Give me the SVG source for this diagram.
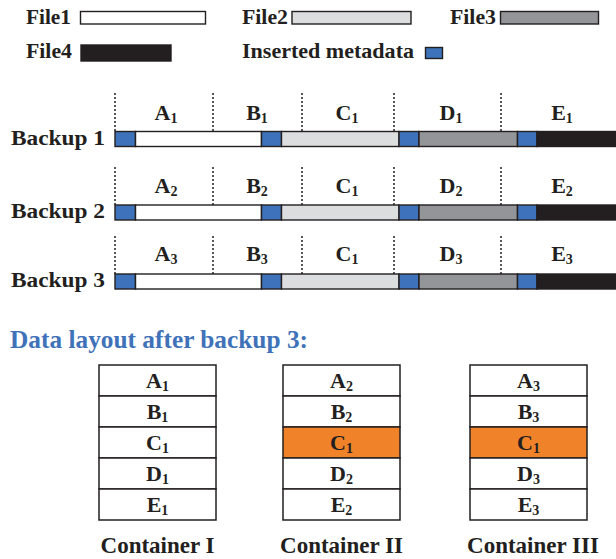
<svg xmlns="http://www.w3.org/2000/svg" width="616" height="559" viewBox="0 0 616 559">
<style>
text{font-family:"Liberation Serif","Times New Roman",serif;font-weight:bold;fill:#231F20}
.leg{font-size:21px}
.lbl{font-size:22px;text-anchor:middle}
.bk{font-size:22px}
.cn{font-size:23px;text-anchor:middle}
.ttl{font-size:26px;fill:#3F72B8}
.seg{stroke:#231F20;stroke-width:1.4}
.meta{fill:#3E72BA}
.f1{fill:#FFFFFF}
.f2{fill:#DCDDDE}
.f3{fill:#939598}
.f4{fill:#231F20}
.org{fill:#F0822A}
.dot{stroke:#231F20;stroke-width:1.5;stroke-dasharray:2 2;fill:none}
.box{stroke:#231F20;stroke-width:1.5}
</style>
<defs>
<g id="bar">
<rect class="seg meta" x="115" y="0" width="20.5" height="15"/>
<rect class="seg f1" x="135.5" y="0" width="126" height="15"/>
<rect class="seg meta" x="261.5" y="0" width="20" height="15"/>
<rect class="seg f2" x="281.5" y="0" width="117.5" height="15"/>
<rect class="seg meta" x="399" y="0" width="20" height="15"/>
<rect class="seg f3" x="419" y="0" width="98.5" height="15"/>
<rect class="seg meta" x="517.5" y="0" width="19.5" height="15"/>
<rect class="seg f4" x="537" y="0" width="85" height="15"/>
</g>
<g id="dots">
<line class="dot" x1="115" y1="0" x2="115" y2="38"/>
<line class="dot" x1="213" y1="0" x2="213" y2="38"/>
<line class="dot" x1="302" y1="0" x2="302" y2="38"/>
<line class="dot" x1="394" y1="0" x2="394" y2="38"/>
<line class="dot" x1="501" y1="0" x2="501" y2="38"/>
</g>
</defs>

<g id="legend">
<g id="legend-file1"><text class="leg" x="26" y="24" textLength="45" lengthAdjust="spacingAndGlyphs">File1</text><rect class="seg f1" x="80.5" y="11.5" width="125" height="12.5"/></g>
<g id="legend-file2"><text class="leg" x="242" y="24" textLength="46" lengthAdjust="spacingAndGlyphs">File2</text><rect class="seg f2" x="292" y="11.5" width="119" height="12.5"/></g>
<g id="legend-file3"><text class="leg" x="450" y="24" textLength="46" lengthAdjust="spacingAndGlyphs">File3</text><rect class="seg f3" x="500.5" y="11.5" width="98" height="12.5"/></g>
<g id="legend-file4"><text class="leg" x="26" y="58" textLength="46" lengthAdjust="spacingAndGlyphs">File4</text><rect class="seg f4" x="81" y="45" width="90" height="16"/></g>
<g id="legend-meta"><text class="leg" x="242" y="58" textLength="172" lengthAdjust="spacingAndGlyphs">Inserted metadata</text><rect class="seg meta" x="425.5" y="47.5" width="17" height="11"/></g>
</g>

<g id="backup1">
<text class="bk" x="11" y="145" textLength="94" lengthAdjust="spacingAndGlyphs">Backup 1</text>
<use href="#dots" y="93"/>
<use href="#bar" y="131.5"/>
<text class="lbl" x="166" y="120">A<tspan font-size="14" dy="3">1</tspan></text>
<text class="lbl" x="257" y="120">B<tspan font-size="14" dy="3">1</tspan></text>
<text class="lbl" x="347" y="120">C<tspan font-size="14" dy="3">1</tspan></text>
<text class="lbl" x="451" y="120">D<tspan font-size="14" dy="3">1</tspan></text>
<text class="lbl" x="562" y="120">E<tspan font-size="14" dy="3">1</tspan></text>
</g>

<g id="backup2">
<text class="bk" x="11" y="218" textLength="94" lengthAdjust="spacingAndGlyphs">Backup 2</text>
<use href="#dots" y="167"/>
<use href="#bar" y="205"/>
<text class="lbl" x="166" y="193">A<tspan font-size="14" dy="3">2</tspan></text>
<text class="lbl" x="257" y="193">B<tspan font-size="14" dy="3">2</tspan></text>
<text class="lbl" x="347" y="193">C<tspan font-size="14" dy="3">1</tspan></text>
<text class="lbl" x="451" y="193">D<tspan font-size="14" dy="3">2</tspan></text>
<text class="lbl" x="562" y="193">E<tspan font-size="14" dy="3">2</tspan></text>
</g>

<g id="backup3">
<text class="bk" x="11" y="287" textLength="94" lengthAdjust="spacingAndGlyphs">Backup 3</text>
<use href="#dots" y="236"/>
<use href="#bar" y="274"/>
<text class="lbl" x="166" y="261">A<tspan font-size="14" dy="3">3</tspan></text>
<text class="lbl" x="257" y="261">B<tspan font-size="14" dy="3">3</tspan></text>
<text class="lbl" x="347" y="261">C<tspan font-size="14" dy="3">1</tspan></text>
<text class="lbl" x="451" y="261">D<tspan font-size="14" dy="3">3</tspan></text>
<text class="lbl" x="562" y="261">E<tspan font-size="14" dy="3">3</tspan></text>
</g>

<g id="title"><text class="ttl" x="10" y="348" textLength="298" lengthAdjust="spacingAndGlyphs">Data layout after backup 3:</text></g>

<g id="container1">
<rect class="box f1" x="99" y="365" width="117" height="31"/>
<rect class="box f1" x="99" y="396" width="117" height="31"/>
<rect class="box f1" x="99" y="427" width="117" height="31"/>
<rect class="box f1" x="99" y="458" width="117" height="31"/>
<rect class="box f1" x="99" y="489" width="117" height="31"/>
<text class="lbl" x="157.5" y="388">A<tspan font-size="14" dy="3">1</tspan></text>
<text class="lbl" x="157.5" y="419">B<tspan font-size="14" dy="3">1</tspan></text>
<text class="lbl" x="157.5" y="450">C<tspan font-size="14" dy="3">1</tspan></text>
<text class="lbl" x="157.5" y="481">D<tspan font-size="14" dy="3">1</tspan></text>
<text class="lbl" x="157.5" y="512">E<tspan font-size="14" dy="3">1</tspan></text>
<text class="cn" x="157.5" y="553">Container I</text>
</g>

<g id="container2">
<rect class="box f1" x="283" y="365" width="117" height="31"/>
<rect class="box f1" x="283" y="396" width="117" height="31"/>
<rect class="box org" x="283" y="427" width="117" height="31"/>
<rect class="box f1" x="283" y="458" width="117" height="31"/>
<rect class="box f1" x="283" y="489" width="117" height="31"/>
<text class="lbl" x="341.5" y="388">A<tspan font-size="14" dy="3">2</tspan></text>
<text class="lbl" x="341.5" y="419">B<tspan font-size="14" dy="3">2</tspan></text>
<text class="lbl" x="341.5" y="450">C<tspan font-size="14" dy="3">1</tspan></text>
<text class="lbl" x="341.5" y="481">D<tspan font-size="14" dy="3">2</tspan></text>
<text class="lbl" x="341.5" y="512">E<tspan font-size="14" dy="3">2</tspan></text>
<text class="cn" x="341.5" y="553">Container II</text>
</g>

<g id="container3">
<rect class="box f1" x="470" y="365" width="117" height="31"/>
<rect class="box f1" x="470" y="396" width="117" height="31"/>
<rect class="box org" x="470" y="427" width="117" height="31"/>
<rect class="box f1" x="470" y="458" width="117" height="31"/>
<rect class="box f1" x="470" y="489" width="117" height="31"/>
<text class="lbl" x="528.5" y="388">A<tspan font-size="14" dy="3">3</tspan></text>
<text class="lbl" x="528.5" y="419">B<tspan font-size="14" dy="3">3</tspan></text>
<text class="lbl" x="528.5" y="450">C<tspan font-size="14" dy="3">1</tspan></text>
<text class="lbl" x="528.5" y="481">D<tspan font-size="14" dy="3">3</tspan></text>
<text class="lbl" x="528.5" y="512">E<tspan font-size="14" dy="3">3</tspan></text>
<text class="cn" x="533" y="553">Container III</text>
</g>
</svg>
